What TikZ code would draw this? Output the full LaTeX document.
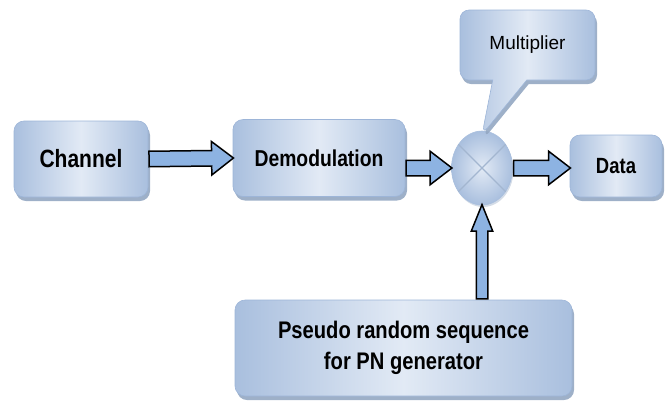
\documentclass[tikz,border=0pt]{standalone}
\usepackage{fontspec}
\setmainfont{Liberation Sans}
\newfontfamily\blockfont[FakeStretch=0.84]{Liberation Sans}
\usetikzlibrary{calc,positioning,shapes,shapes.arrows,shapes.callouts,shadows}

\definecolor{boxlight}{HTML}{E2EAF5}
\definecolor{boxdark}{HTML}{A9BFDE}
\definecolor{boxline}{HTML}{9DB5D8}
\definecolor{boxshade}{HTML}{93A7C2}
\definecolor{arrowblue}{HTML}{8DB3E2}
\definecolor{crossline}{HTML}{A3B6D0}

\tikzset{
  block/.style={rectangle, rounded corners=10pt, draw=boxline, line width=0.6pt,
    left color=boxdark, right color=boxdark, middle color=boxlight,
    drop shadow={shadow xshift=2pt, shadow yshift=-4pt, fill=boxshade, opacity=0.9},
    align=center, inner sep=0pt},
  blockarrow/.style={single arrow, draw=black, line width=1.5pt, fill=arrowblue,
    inner xsep=0pt, minimum width=0pt, line join=miter},
  flow/.style n args={3}{to path={
    let \p1=(\tikztostart), \p2=(\tikztotarget),
        \n1={veclen(\x2-\x1,\y2-\y1)}, \n2={atan2(\y2-\y1,\x2-\x1)} in
    node[blockarrow, inner ysep=#1, single arrow head extend=#2,
         single arrow tip angle=#3, minimum height=\n1, rotate=\n2,
         anchor=tail] at (\p1) {} (\tikztotarget)}}
}

\begin{document}
\begin{tikzpicture}[x=1pt, y=-1pt]
  \useasboundingbox (0,0) rectangle (667,400);

  % signal chain
  \node[block, minimum width=134pt, minimum height=76pt,
        font=\blockfont\bfseries\fontsize{25}{30}\selectfont] (chan) at (81,159) {Channel};
  \node[block, minimum width=172pt, minimum height=77pt,
        font=\blockfont\bfseries\fontsize{23}{28}\selectfont] (demod) at (319,158) {Demodulation};
  \node[ellipse, minimum width=61pt, minimum height=74pt, draw=boxdark, line width=0.6pt,
        inner color=boxlight, outer color=boxdark,
        drop shadow={shadow xshift=1pt, shadow yshift=-2pt, fill=boxshade, opacity=0.4}]
        (mult) at (482,168) {};
  \draw[crossline, line width=1.2pt] (mult.45) -- (mult.225) (mult.135) -- (mult.315);
  \node[block, minimum width=92pt, minimum height=62pt,
        font=\blockfont\bfseries\fontsize{22}{26}\selectfont] (data) at (616,166) {Data};
  \node[block, minimum width=337pt, minimum height=96pt,
        font=\blockfont\bfseries\fontsize{24}{31}\selectfont] (pn) at (403.5,348)
        {Pseudo random sequence\\for PN generator};

  % label bubble
  \node[rectangle callout, rounded corners=9pt, draw=boxline, line width=0.6pt,
        left color=boxdark, right color=boxdark, middle color=boxlight,
        drop shadow={shadow xshift=2pt, shadow yshift=-4pt, fill=boxshade, opacity=0.9},
        minimum width=135pt, minimum height=70pt, inner sep=0pt,
        callout absolute pointer={([yshift=-4pt]mult.north)}, callout pointer width=34pt,
        font=\fontsize{19}{23}\selectfont] (bubble) at (527.5,45) {Multiplier};

  % arrows
  \path (chan.east) to[flow={7pt}{9pt}{75}] (demod.west);
  \path (demod.east |- mult.west) to[flow={7pt}{9pt}{75}] (mult.west);
  \path (mult.east) to[flow={7pt}{9pt}{75}] (data.west |- mult.east);
  \path (pn.north -| mult.south) to[flow={5pt}{5pt}{44}] (mult.south);
\end{tikzpicture}
\end{document}
